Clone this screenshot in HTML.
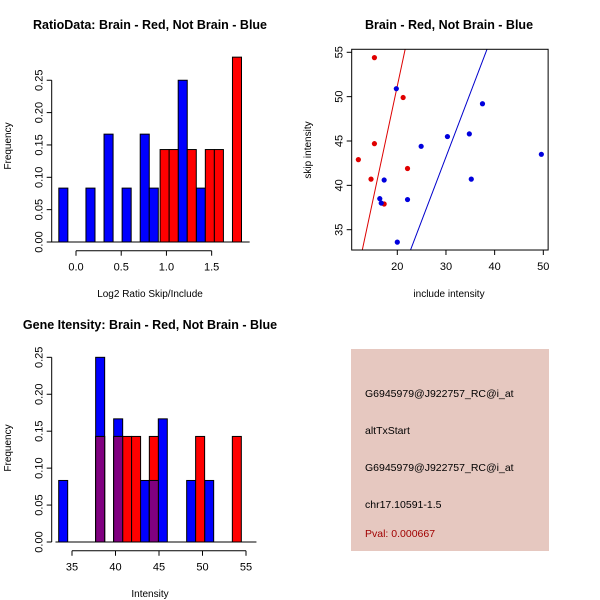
<!DOCTYPE html>
<html><head><meta charset="utf-8"><style>
html,body{margin:0;padding:0;background:#fff;}
svg{display:block;font-family:"Liberation Sans",sans-serif;}
</style></head><body>
<svg id="s" width="600" height="600" viewBox="0 0 600 600" xmlns="http://www.w3.org/2000/svg">
<rect x="0" y="0" width="600" height="600" fill="#fff"/>
<g id="p1"></g>
<g id="p2"></g>
<g id="p3"></g>
<g>
<rect x="351" y="349" width="198" height="202" fill="#e6c8c0"/>
<text x="365" y="397" font-size="10.5" fill="#000">G6945979@J922757_RC@i_at</text>
<text x="365" y="434" font-size="10.5" fill="#000">altTxStart</text>
<text x="365" y="471" font-size="10.5" fill="#000">G6945979@J922757_RC@i_at</text>
<text x="365" y="508" font-size="10.5" fill="#000">chr17.10591-1.5</text>
<text x="365" y="537" font-size="10.5" fill="#a00000">Pval: 0.000667</text>
</g>
</svg>
<script>
// Plot 1 data
const p1BlueLeft=[-0.19,0.11,0.31,0.51,0.71,0.81,1.13,1.33];
const p1BlueFreq=[0.0833,0.0833,0.1667,0.0833,0.1667,0.0833,0.25,0.0833];
const p1RedLeft=[0.93,1.03,1.23,1.43,1.53,1.73];
const p1RedFreq=[0.1429,0.1429,0.1429,0.1429,0.1429,0.2857];
const p1BinW=0.1;
const p1XTicks=[0,0.5,1,1.5];
const p1XLabels=["0.0","0.5","1.0","1.5"];
const p1YTicks=[0,0.05,0.1,0.15,0.2,0.25];
const p1YLabels=["0.00","0.05","0.10","0.15","0.20","0.25"];
// Plot 2 data
const redX=[15.3,21.2,15.3,12.0,22.1,14.6,17.3];
const redY=[54.4,49.9,44.7,42.9,41.9,40.7,37.9];
const blueX=[19.8,37.5,30.3,34.8,24.9,49.6,17.3,35.2,16.4,16.7,22.1,20.0];
const blueY=[50.9,49.2,45.5,45.8,44.4,43.5,40.6,40.7,38.5,38.0,38.4,33.6];
const redFit=[-0.2,2.57];
const blueFit=[0.0,1.44];
const p2XTicks=[20,30,40,50];
const p2YTicks=[35,40,45,50,55];
// Plot 3 data
const p3BlueLeft=[33.47,37.72,39.79,42.85,43.89,44.92,48.18,50.25];
const p3BlueFreq=[0.0833,0.25,0.1667,0.0833,0.0833,0.1667,0.0833,0.0833];
const p3RedLeft=[37.72,39.79,40.82,41.85,43.89,49.21,53.43];
const p3RedFreq=[0.1429,0.1429,0.1429,0.1429,0.1429,0.1429,0.1429];
const p3BinW=1.034;
const p3XTicks=[35,40,45,50,55];
const p3YTicks=[0,0.05,0.1,0.15,0.2,0.25];
const p3YLabels=["0.00","0.05","0.10","0.15","0.20","0.25"];

const NS="http://www.w3.org/2000/svg";
function mk(parent,tag,attrs,txt){const e=document.createElementNS(NS,tag);for(const k in attrs)e.setAttribute(k,attrs[k]);if(txt!==undefined)e.textContent=txt;parent.appendChild(e);return e;}

function title(g,x,y,t){const e=mk(g,'text',{x:x,y:y,'text-anchor':'middle','font-size':12.5,'font-weight':'bold'},t);

}
function yAxis(g,ax,ys,ticks,labels,t0,t1){
 const l=mk(g,'line',{x1:ax,x2:ax,y1:ys(t0),y2:ys(t1),stroke:'#000'});
 
 
 ticks.forEach((v,i)=>{const y=ys(v);mk(g,'line',{x1:ax-5,x2:ax,y1:y,y2:y,stroke:'#000'});
  const t=mk(g,'text',{x:0,y:0,transform:`translate(${ax-9},${y}) rotate(-90)`,'text-anchor':'middle','font-size':11},labels[i]);
  
  });
}
function xAxis(g,ay,xs,ticks,labels,t0,t1){
 const l=mk(g,'line',{x1:xs(t0),x2:xs(t1),y1:ay,y2:ay,stroke:'#000'});
 
 
 ticks.forEach((v,i)=>{const x=xs(v);mk(g,'line',{x1:x,x2:x,y1:ay,y2:ay+5,stroke:'#000'});
  const t=mk(g,'text',{x:x,y:ay+20,'text-anchor':'middle','font-size':11},labels[i]);
  
  });
}
function axTitle(g,x,y,t,rot,name){const e=mk(g,'text',{x:0,y:0,transform:`translate(${x},${y})`+(rot?' rotate(-90)':''),'text-anchor':'middle','font-size':10},t);

}
function bar(g,x0,x1,y0,y1,fill,name){const r=mk(g,'rect',{x:x0,y:y1,width:x1-x0,height:y0-y1,fill:fill,stroke:'#000','stroke-width':1});

}

// Plot 1
(function(){
 const g=document.getElementById('p1');
 const xs=v=>76+v*90.44, ys=v=>242-v*647;
 p1BlueLeft.forEach((l,i)=>bar(g,xs(l),xs(l+p1BinW),ys(0),ys(p1BlueFreq[i]),'#0000ff','bar-blue'));
 p1RedLeft.forEach((l,i)=>bar(g,xs(l),xs(l+p1BinW),ys(0),ys(p1RedFreq[i]),'#ff0000','bar-red'));
 const b=mk(g,'line',{x1:xs(-0.28),x2:xs(1.92),y1:ys(0),y2:ys(0),stroke:'#000'});
 
 
 yAxis(g,51.7,ys,p1YTicks,p1YLabels,0,0.25);
 xAxis(g,250.7,xs,p1XTicks,p1XLabels,0,1.5);
 title(g,150,29,'RatioData: Brain - Red, Not Brain - Blue');
 axTitle(g,150,297,'Log2 Ratio Skip/Include',false,'x-axis-title');
 axTitle(g,11,146,'Frequency',true,'y-axis-title');
})();
// Plot 2
(function(){
 const g=document.getElementById('p2');
 const xs=v=>397.3+(v-20)*4.867, ys=v=>52.3+(55-v)*8.87;
 const x0=10.63,x1=50.99,y0=32.71,y1=55.34;
 const cp=mk(g,'clipPath',{id:'c2'});mk(cp,'rect',{x:xs(x0),y:ys(y1),width:xs(x1)-xs(x0),height:ys(y0)-ys(y1)});
 [[redFit,'#dd0000','fit-line-red'],[blueFit,'#0000cc','fit-line-blue']].forEach(([f,c,n])=>{
  const ya=y0-1,yb=y1+1;const xa=(ya-f[0])/f[1],xb=(yb-f[0])/f[1];
  const l=mk(g,'line',{x1:xs(xa),y1:ys(ya),x2:xs(xb),y2:ys(yb),stroke:c,'stroke-width':1,'clip-path':'url(#c2)'});
  
  
 });
 redX.forEach((x,i)=>{const c=mk(g,'circle',{cx:xs(x),cy:ys(redY[i]),r:2.6,fill:'#e00000'});
  
  });
 blueX.forEach((x,i)=>{const c=mk(g,'circle',{cx:xs(x),cy:ys(blueY[i]),r:2.6,fill:'#0000dd'});
  
  });
 const fr=mk(g,'rect',{x:xs(x0),y:ys(y1),width:xs(x1)-xs(x0),height:ys(y0)-ys(y1),fill:'none',stroke:'#000'});
 
 
 p2XTicks.forEach(v=>{const x=xs(v);mk(g,'line',{x1:x,x2:x,y1:250,y2:255,stroke:'#000'});
  const t=mk(g,'text',{x:x,y:270,'text-anchor':'middle','font-size':11},String(v));
  
  });
 p2YTicks.forEach(v=>{const y=ys(v);mk(g,'line',{x1:346.7,x2:351.7,y1:y,y2:y,stroke:'#000'});
  const t=mk(g,'text',{x:0,y:0,transform:`translate(${342.7},${y}) rotate(-90)`,'text-anchor':'middle','font-size':11},String(v));
  
  });
 title(g,449,29,'Brain - Red, Not Brain - Blue');
 axTitle(g,449,297,'include intensity',false,'x-axis-title');
 axTitle(g,311,150,'skip intensity',true,'y-axis-title');
})();
// Plot 3
(function(){
 const g=document.getElementById('p3');
 const xs=v=>72+(v-35)*8.7, ys=v=>542-v*738.7;
 p3BlueLeft.forEach((l,i)=>bar(g,xs(l),xs(l+p3BinW),ys(0),ys(p3BlueFreq[i]),'#0000ff','bar-blue'));
 p3RedLeft.forEach((l,i)=>bar(g,xs(l),xs(l+p3BinW),ys(0),ys(p3RedFreq[i]),'#ff0000','bar-red'));
 p3RedLeft.forEach((l,i)=>{const j=p3BlueLeft.findIndex(b=>Math.abs(b-l)<0.3);
  if(j>=0)bar(g,xs(l),xs(l+p3BinW),ys(0),ys(Math.min(p3RedFreq[i],p3BlueFreq[j])),'#800080','bar-overlap');});
 const b=mk(g,'line',{x1:xs(33.1),x2:xs(56.2),y1:ys(0),y2:ys(0),stroke:'#000'});
 
 
 yAxis(g,51.7,ys,p3YTicks,p3YLabels,0,0.25);
 xAxis(g,550.7,xs,p3XTicks,p3XTicks.map(String),35,55);
 title(g,150,329,'Gene Itensity: Brain - Red, Not Brain - Blue');
 axTitle(g,150,597,'Intensity',false,'x-axis-title');
 axTitle(g,11,448,'Frequency',true,'y-axis-title');
})();
</script>
</body></html>
